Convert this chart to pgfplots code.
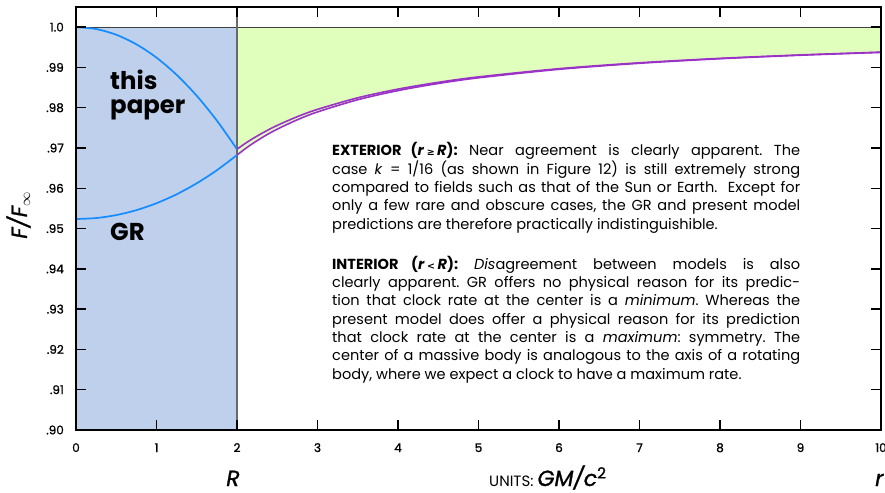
\documentclass[border=0pt]{standalone}
\usepackage{fontspec}
\setmainfont{Poppins}
\newfontfamily\medfont{Poppins}[FakeBold=1.2]
\newfontfamily\symfont{DejaVu Sans}
\usepackage{pgfplots}
\pgfplotsset{compat=1.18}

\definecolor{intfill}{RGB}{190,208,236}
\definecolor{extfill}{RGB}{225,255,188}
\definecolor{curveblue}{RGB}{20,140,255}
\definecolor{curvepurple}{RGB}{155,50,200}
\definecolor{rline}{RGB}{105,105,105}

\newcommand\bodyfont{\fontsize{14.6}{18}\selectfont\frenchspacing}
\newcommand\smallsym[1]{{\symfont\fontsize{9.5}{9.5}\selectfont #1}}
% one justified line of the notes, and one line left at its natural width
\newcommand\jline[2]{\node[anchor=base west, inner sep=0pt] at (256bp,#1) {\bodyfont\hbox to 468bp{#2}};}
\newcommand\nline[2]{\node[anchor=base west, inner sep=0pt] at (256bp,#1) {\bodyfont #2};}

\begin{document}
\begin{tikzpicture}
\useasboundingbox (-76bp,-63bp) rectangle (809bp,430bp);
\begin{axis}[
  at={(0,0)}, anchor=south west,
  scale only axis, width=805bp, height=423bp,
  xmin=0, xmax=10, ymin=0.90, ymax=1.005,
  axis line style={line width=1.4bp, black},
  xtick={0,1,2,3,4,5,6,7,8,9,10},
  xticklabels={0,1,2,3,4,5,6,7,8,9,10},
  ytick={0.90,0.91,0.92,0.93,0.94,0.95,0.96,0.97,0.98,0.99,1.0},
  yticklabels={.90,.91,.92,.93,.94,.95,.96,.97,.98,.99,1.0},
  tick align=inside, major tick length=10bp,
  tick style={line width=1.3bp, black},
  ticklabel style={font=\medfont\fontsize{12}{12}\selectfont, inner sep=0pt},
  yticklabel style={anchor=east, xshift=-12bp},
  xticklabel style={anchor=base, yshift=-22bp},
  axis on top,
]
% interior region r < R
\addplot[fill=intfill, draw=none] coordinates {(0,0.90) (2,0.90) (2,1.0) (0,1.0)} -- cycle;
% gap between the exterior curves and unity
\addplot[fill=extfill, draw=none] coordinates {
  (2,1.0) (2,0.96825) (2.1,0.96978) (2.2,0.97118) (2.35,0.97304) (2.5,0.97468)
  (2.75,0.97701) (3,0.97895) (3.5,0.98198) (4,0.98425) (4.5,0.98601) (5,0.98742)
  (6,0.98953) (7,0.99103) (8,0.99216) (9,0.99303) (10,0.99373) (10,1.0)} -- cycle;
% reference lines
\addplot[draw=black!75, line width=1bp] coordinates {(0,1.0) (10,1.0)};
\addplot[draw=rline, line width=1.4bp] coordinates {(2,0.90) (2,1.005)};
% interior curves
\addplot[curveblue, line width=1.7bp, smooth] coordinates {
  (0,1.0) (0.25,0.99953) (0.5,0.99811) (0.75,0.99574) (1,0.99243)
  (1.25,0.98816) (1.5,0.98296) (1.75,0.97680) (2,0.96970)};
\addplot[curveblue, line width=1.7bp, smooth] coordinates {
  (0,0.95237) (0.25,0.95261) (0.5,0.95335) (0.75,0.95457) (1,0.95629)
  (1.25,0.95851) (1.5,0.96124) (1.75,0.96448) (2,0.96825)};
% exterior curves
\addplot[curvepurple, line width=1.6bp, smooth] coordinates {
  (2,0.96970) (2.1,0.97110) (2.2,0.97238) (2.35,0.97409) (2.5,0.97561)
  (2.75,0.97778) (3,0.97959) (3.5,0.98246) (4,0.98462) (4.5,0.98630) (5,0.98765)
  (6,0.98969) (7,0.99115) (8,0.99225) (9,0.99310) (10,0.99379)};
\addplot[curvepurple, line width=1.6bp, smooth] coordinates {
  (2,0.96825) (2.1,0.96978) (2.2,0.97118) (2.35,0.97304) (2.5,0.97468)
  (2.75,0.97701) (3,0.97895) (3.5,0.98198) (4,0.98425) (4.5,0.98601) (5,0.98742)
  (6,0.98953) (7,0.99103) (8,0.99216) (9,0.99303) (10,0.99373)};
\end{axis}

% curve names
\node[anchor=base west, inner sep=0pt] at (34bp,340bp) {\fontsize{24.5}{24}\selectfont\bfseries this};
\node[anchor=base west, inner sep=0pt] at (34bp,316.7bp) {\fontsize{24.5}{24}\selectfont\bfseries paper};
\node[anchor=base west, inner sep=0pt] at (34bp,189.3bp) {\fontsize{24.5}{24}\selectfont\bfseries GR};

% axis labels
\node[rotate=90, anchor=base, inner sep=0pt] at (-49bp,215bp)
  {\medfont\fontsize{22}{22}\selectfont\itshape F/F$_{\infty}$};
\node[anchor=base, inner sep=0pt] at (157bp,-56bp) {\medfont\fontsize{22}{22}\selectfont\itshape R};
\node[anchor=base west, inner sep=0pt] at (413bp,-56bp)
  {\fontsize{15}{15}\selectfont UNITS: \medfont\fontsize{22}{22}\selectfont\itshape GM/c\textsuperscript{\upshape 2}};
\node[anchor=base west, inner sep=0pt] at (799bp,-56bp) {\medfont\fontsize{22}{22}\selectfont\itshape r};

% notes
\jline{274bp}{\textbf{EXTERIOR (\textit{r}\,\smallsym{≥}\,\textit{R}):} Near agreement is clearly apparent. The}
\jline{255.7bp}{case \textit{k} = 1/16 (as shown in Figure 12) is still extremely strong}
\jline{237.4bp}{compared to fields such as that of the Sun or Earth.\ \ Except for}
\jline{219.1bp}{only a few rare and obscure cases, the GR and present model}
\nline{200.8bp}{predictions are therefore practically indistinguishible.}

\jline{160.7bp}{\textbf{INTERIOR (\textit{r}\,\smallsym{<}\,\textit{R}):} \textit{Dis}agreement between models is also}
\jline{142.4bp}{clearly apparent. GR offers no physical reason for its predic-}
\jline{124.1bp}{tion that clock rate at the center is a \textit{minimum}. Whereas the}
\jline{105.8bp}{present model does offer a physical reason for its prediction}
\jline{87.5bp}{that clock rate at the center is a \textit{maximum}: symmetry. The}
\jline{69.2bp}{center of a massive body is analogous to the axis of a rotating}
\nline{50.9bp}{body, where we expect a clock to have a maximum rate.}
\end{tikzpicture}
\end{document}
